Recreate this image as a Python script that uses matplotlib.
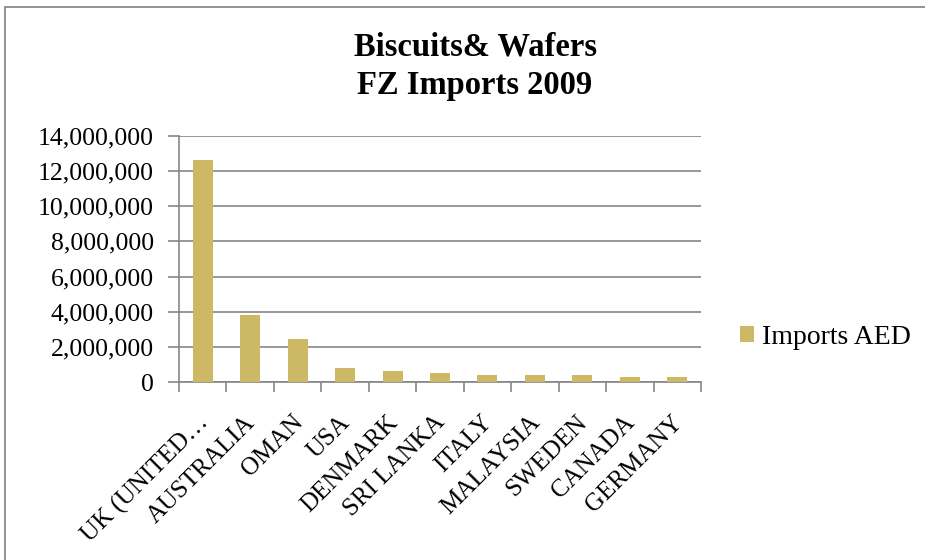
import matplotlib
matplotlib.use("Agg")
import matplotlib.pyplot as plt
import matplotlib.transforms as mtransforms
from matplotlib.ticker import FuncFormatter, FixedLocator
from matplotlib.patches import Rectangle

countries = ["UK (UNITED\u2026", "AUSTRALIA", "OMAN", "USA", "DENMARK", "SRI LANKA",
             "ITALY", "MALAYSIA", "SWEDEN", "CANADA", "GERMANY"]
imports_aed = [12640000, 3800000, 2480000, 820000, 660000, 530000,
               440000, 440000, 440000, 310000, 310000]
series_name = "Imports AED"
title = "Biscuits& Wafers\nFZ Imports 2009"
yticks = [0, 2000000, 4000000, 6000000, 8000000, 10000000, 12000000, 14000000]

plt.rcParams['font.family'] = ['Liberation Serif', 'DejaVu Serif']

W, H = 925, 560
fig = plt.figure(figsize=(W / 100, H / 100), dpi=100)
fig.patches.append(Rectangle((5 / W, -0.1), 2, 1.1 - 7 / H, transform=fig.transFigure,
                             fill=False, edgecolor='#7f7f7f', linewidth=1.2))

ax = fig.add_axes([179 / W, 1 - 382.3 / H, (701 - 179) / W, (382.3 - 135.7) / H])
x = list(range(len(countries)))
color = '#CDB965'
bars = ax.bar(x, imports_aed, width=0.42, color=color, label=series_name, zorder=3)

ax.set_xlim(-0.5, len(countries) - 0.5)
ax.set_ylim(0, 14000000)
ax.set_yticks(yticks)
ax.yaxis.set_major_formatter(FuncFormatter(lambda v, p: f"{int(v):,}"))
ax.grid(axis='y', color='#868686', linewidth=1.2, zorder=0)
ax.set_axisbelow(True)

ax.set_xticks(x)
ax.set_xticklabels(countries, rotation=45, ha='right', va='top',
                   rotation_mode='anchor', fontsize=18)
ax.tick_params(axis='x', which='major', length=0, pad=21)
offset = mtransforms.ScaledTranslation(-6 / 100, 0, fig.dpi_scale_trans)
for lbl in ax.get_xticklabels():
    lbl.set_transform(lbl.get_transform() + offset)
ax.xaxis.set_minor_locator(FixedLocator([i - 0.5 for i in range(len(countries) + 1)]))
ax.tick_params(axis='x', which='minor', length=7, color='#868686', width=1.2)
ax.tick_params(axis='y', length=8, color='#868686', width=1.2, labelsize=18.5, pad=10)

for s in ['top', 'right']:
    ax.spines[s].set_visible(False)
for s in ['left', 'bottom']:
    ax.spines[s].set_color('#868686')
    ax.spines[s].set_linewidth(1.2)

fig.text(475 / W, 1 - 66 / H, title, ha='center', va='center', fontsize=23.5,
         fontweight='bold', linespacing=1.32)

leg = fig.legend(handles=[bars], labels=[series_name], loc='center left',
                 bbox_to_anchor=(740 / W, 1 - 337 / H), frameon=False, fontsize=20,
                 handlelength=0.5, handleheight=0.5, handletextpad=0.3,
                 borderaxespad=0, borderpad=0)

fig.savefig("out.png", dpi=100)
